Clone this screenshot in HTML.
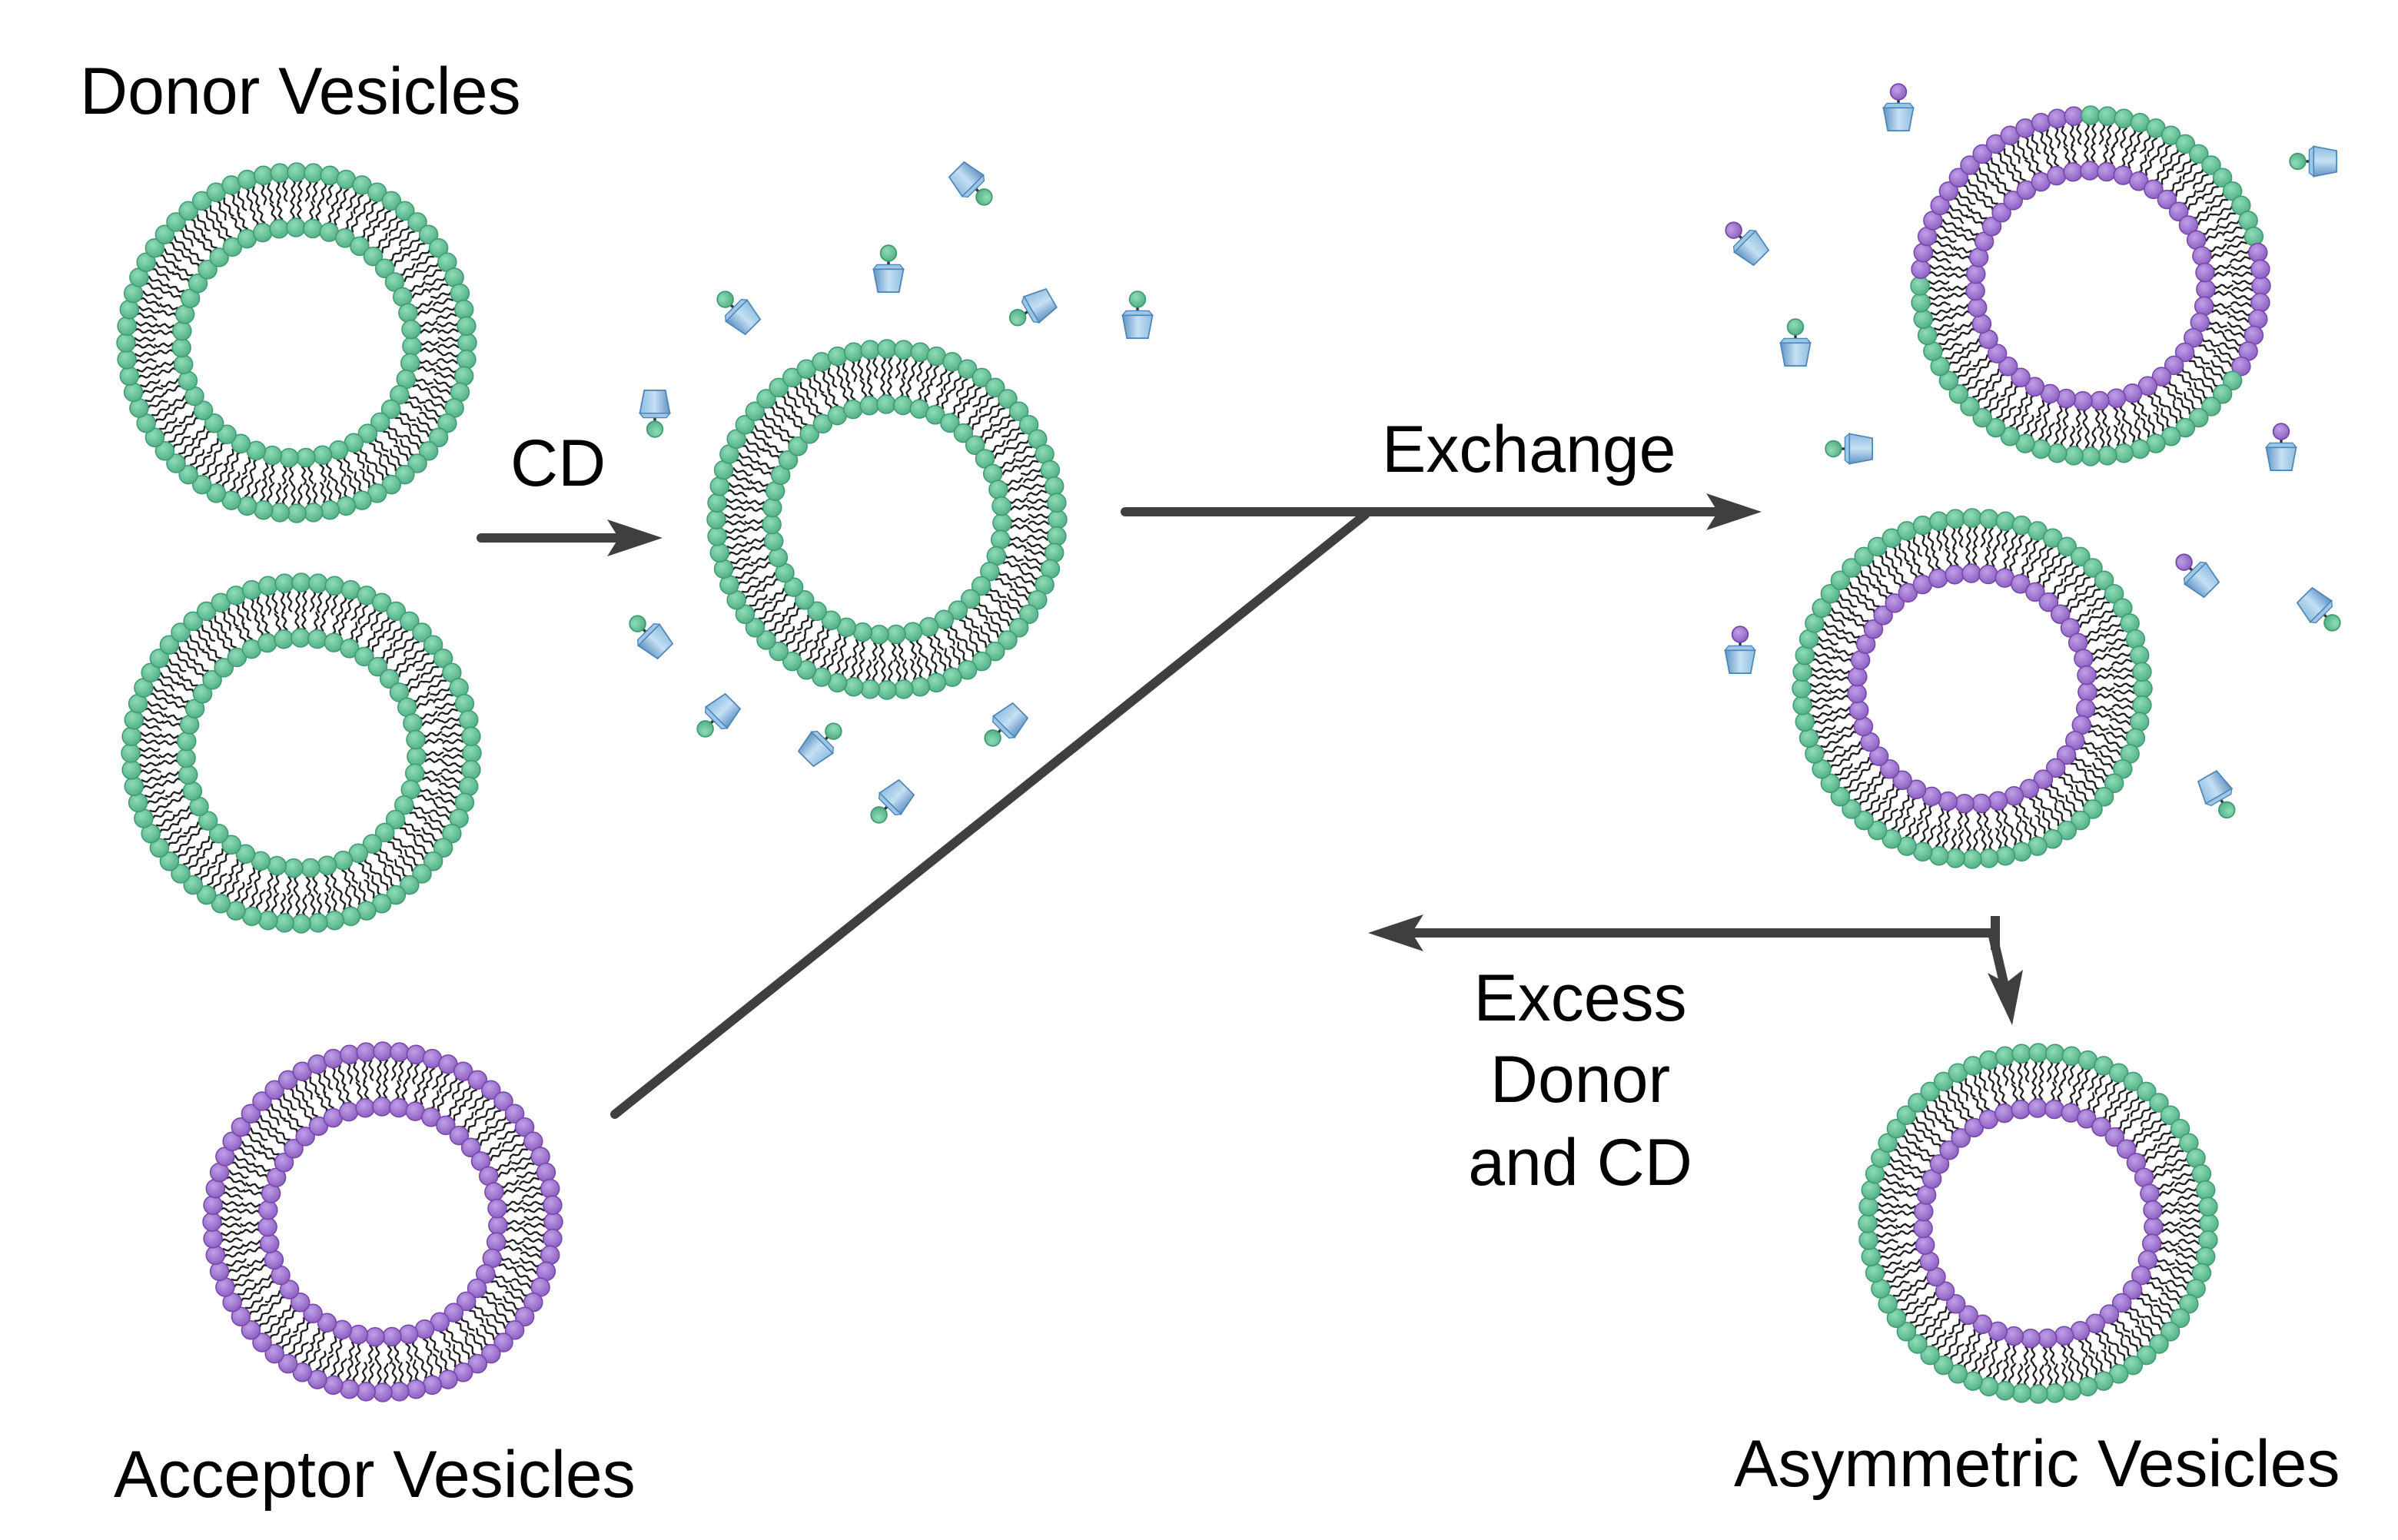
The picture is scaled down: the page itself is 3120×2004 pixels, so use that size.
<!DOCTYPE html>
<html><head><meta charset="utf-8"><style>
html,body{margin:0;padding:0;background:#fff;}
#wrap{position:relative;width:3120px;height:2004px;overflow:hidden;background:#fff;}
svg{position:absolute;left:0;top:0;}
text{font-family:"Liberation Sans",sans-serif;fill:#000;}
</style></head><body><div id="wrap">
<svg id="s" width="3120" height="2004" viewBox="0 0 3120 2004" xmlns="http://www.w3.org/2000/svg">
<defs>
<radialGradient id="gg" cx="0.4" cy="0.35" r="0.7"><stop offset="0" stop-color="#8fdcb8"/><stop offset="1" stop-color="#4fae84"/></radialGradient>
<radialGradient id="pg" cx="0.4" cy="0.35" r="0.7"><stop offset="0" stop-color="#c0a0e8"/><stop offset="1" stop-color="#8a5cc0"/></radialGradient>
<linearGradient id="bg" x1="0" y1="0" x2="1" y2="0"><stop offset="0" stop-color="#5f93c4"/><stop offset="0.5" stop-color="#c4e0f4"/><stop offset="1" stop-color="#8fbde0"/></linearGradient>
</defs>
<g id="ves"></g>
<g id="cds"></g>
<g fill="none" stroke="#3f3f3f" stroke-width="12" stroke-linecap="round">
<line x1="626" y1="700" x2="830" y2="700"/>
<line x1="1464" y1="666" x2="2260" y2="666"/>
<line x1="800" y1="1450" x2="1776" y2="670"/>
<line x1="2596" y1="1214" x2="1814" y2="1214"/>
<line x1="2592" y1="1214" x2="2612" y2="1300"/>
<line x1="2596" y1="1192" x2="2596" y2="1236" stroke-linecap="butt"/>
</g>
<g fill="#3f3f3f">
<polygon points="862,700 790,676 805,700 790,724"/>
<polygon points="2292,666 2220,642 2235,666 2220,690"/>
<polygon points="1780,1214 1852,1190 1837,1214 1852,1238"/>
<polygon points="2618,1334 2586,1266 2610,1279 2632,1262"/>
</g>
<text x="104" y="148" font-size="86">Donor Vesicles</text>
<text x="664" y="632" font-size="86">CD</text>
<text x="1798" y="614" font-size="86">Exchange</text>
<text x="2056" y="1328" font-size="86" text-anchor="middle">Excess</text>
<text x="2056" y="1434" font-size="86" text-anchor="middle">Donor</text>
<text x="2056" y="1542" font-size="86" text-anchor="middle">and CD</text>
<text x="148" y="1948" font-size="86">Acceptor Vesicles</text>
<text x="2256" y="1934" font-size="86">Asymmetric Vesicles</text>
</svg></div>
<script>
var NS="http://www.w3.org/2000/svg";
function el(t,a,p){var e=document.createElementNS(NS,t);for(var k in a)e.setAttribute(k,a[k]);p.appendChild(e);return e;}
var V=document.getElementById('ves');
function ball(x,y,r,c,p){el('circle',{cx:x.toFixed(1),cy:y.toFixed(1),r:r,fill:c=='g'?'url(#gg)':'url(#pg)',stroke:c=='g'?'#3f9a72':'#7446a8','stroke-width':1.5},p);}
function strands(cx,cy,a,s0,s1,g){
 var ux=Math.cos(a),uy=Math.sin(a),vx=-uy,vy=ux,d='';
 [-4.5,4.5].forEach(function(o,i){
  for(var k=0;k<=8;k++){var s=s0+(s1-s0)*k/8;var t=o+2.2*Math.sin(k*1.4+i*2);
   var x=cx+s*ux+t*vx,y=cy+s*uy+t*vy;d+=(k?'L':'M')+x.toFixed(1)+' '+y.toFixed(1);}
 });
 el('path',{d:d,fill:'none',stroke:'#1e1e1e','stroke-width':2.3},g);
}
function vesicle(cx,cy,outerCol,innerCol){
 var R=222,r=150,no=64,ni=43,g=el('g',{},V);
 for(var i=0;i<no;i++){var a=2*Math.PI*i/no;strands(cx,cy,a,R-11,R-38,g);}
 for(var i=0;i<ni;i++){var a=2*Math.PI*i/ni+0.03;strands(cx,cy,a,r+11,r+35,g);}
 for(var i=0;i<no;i++){var a=2*Math.PI*i/no;ball(cx+R*Math.cos(a),cy+R*Math.sin(a),12,outerCol(a*180/Math.PI),g);}
 for(var i=0;i<ni;i++){var a=2*Math.PI*i/ni+0.03;ball(cx+r*Math.cos(a),cy+r*Math.sin(a),12,innerCol,g);}
}
var G=function(){return 'g'},P=function(){return 'p'};
vesicle(386,446,G,'g');
vesicle(392,980,G,'g');
vesicle(1154,676,G,'g');
vesicle(498,1590,P,'p');
vesicle(2720,372,function(d){if(d>180)d-=360;
 if(d>=-95&&d<-15)return 'g'; if(d>=-15&&d<32)return 'p'; if(d>=32&&d<=180)return 'g'; return 'p';},'p');
vesicle(2566,896,G,'p');
vesicle(2652,1592,G,'p');
var C=document.getElementById('cds');
function cd(x,y,dir,c){
 var g=el('g',{transform:'translate('+x*2+','+y*2+') rotate('+(dir+90)+') scale(1.15)'},C);
 el('line',{x1:0,y1:-10,x2:0,y2:-22,stroke:'#333','stroke-width':3},g);
 el('polygon',{points:'-17,-12 17,-12 12,14 -12,14',fill:'url(#bg)',stroke:'#4f84b4','stroke-width':1.5},g);
 el('polygon',{points:'-17,-12 17,-12 13,-17 -13,-17',fill:'#9cc7e8',stroke:'#4f84b4','stroke-width':1.2},g);
 ball(0,-30,9,c,g);
}
[[628,116,45,'g'],[578,182,-90,'g'],[484,207,-135,'g'],[677,198,150,'g'],[740,212,-90,'g'],[426,262,90,'g'],
[427,418,-135,'g'],[471,462,135,'g'],[530,488,-45,'g'],[584,518,135,'g'],[658,468,135,'g'],
[1235,77,-90,'p'],[1512,105,180,'g'],[1140,162,-135,'p'],[1168,230,-90,'g'],[1210,292,180,'g'],[1484,298,-90,'p'],
[1433,378,-135,'p'],[1505,393,45,'g'],[1132,430,-90,'p'],[1440,512,60,'g']].forEach(function(a){cd(a[0],a[1],a[2],a[3]);});
</script>
</body></html>
